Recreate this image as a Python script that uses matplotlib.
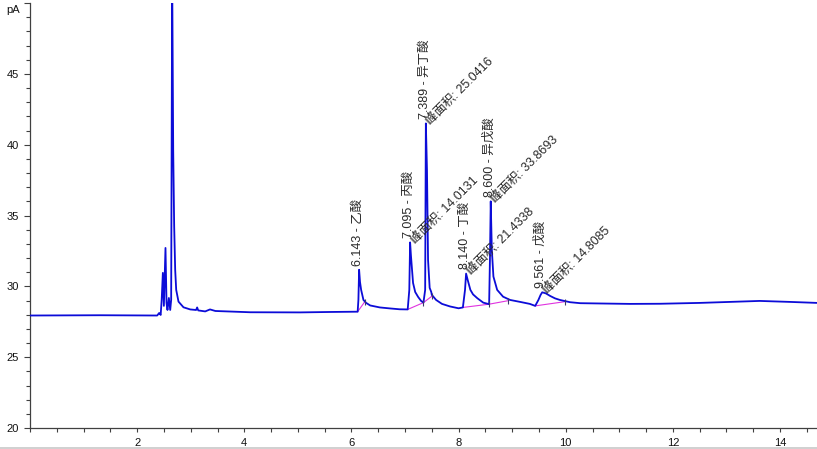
import matplotlib
matplotlib.use("Agg")
import matplotlib.pyplot as plt
from matplotlib.ticker import MultipleLocator, FixedLocator
from matplotlib.lines import Line2D

plt.rcParams['font.family'] = ['Liberation Sans', 'Noto Sans CJK SC', 'DejaVu Sans']

# chromatogram trace (min, pA)
trace_time = [
    0.00, 1.31, 2.374, 2.411, 2.439, 2.458, 2.480, 2.499, 2.529, 2.548,
    2.566, 2.592, 2.617, 2.635, 2.654, 2.673, 2.691, 2.710, 2.729, 2.772,
    2.865, 2.99, 3.10, 3.12, 3.14, 3.27, 3.36, 3.46, 4.11, 5.04,
    5.60, 6.116, 6.130, 6.143, 6.160, 6.181, 6.224, 6.275, 6.35, 6.53,
    6.72, 6.90, 7.05, 7.080, 7.095, 7.110, 7.124, 7.15, 7.19, 7.245,
    7.30, 7.344, 7.376, 7.389, 7.41, 7.43, 7.46, 7.49, 7.50, 7.58,
    7.69, 7.84, 8.00, 8.08, 8.12, 8.140, 8.17, 8.22, 8.27, 8.35,
    8.46, 8.57, 8.585, 8.600, 8.62, 8.65, 8.72, 8.83, 8.96, 9.15,
    9.33, 9.43, 9.49, 9.53, 9.561, 9.63, 9.71, 9.80, 9.89, 10.08,
    10.27, 10.64, 11.2, 11.76, 12.5, 13.06, 13.62, 14.19, 14.69,
]
trace_signal = [
    27.94, 27.96, 27.94, 28.12, 27.98, 29.04, 30.95, 28.62, 32.71, 28.83,
    28.33, 29.18, 28.33, 29.04, 52.00, 39.60, 34.27, 31.16, 29.75, 28.92,
    28.52, 28.37, 28.33, 28.51, 28.30, 28.23, 28.37, 28.26, 28.17, 28.16,
    28.19, 28.21, 29.04, 31.17, 30.30, 29.75, 29.04, 28.83, 28.65, 28.51,
    28.44, 28.38, 28.37, 29.75, 33.10, 32.20, 31.51, 30.24, 29.60, 29.25,
    28.97, 28.85, 29.75, 41.50, 38.20, 31.86, 29.89, 29.60, 29.40, 29.04,
    28.76, 28.58, 28.45, 28.51, 29.75, 30.90, 30.45, 29.75, 29.43, 29.16,
    28.85, 28.74, 31.86, 36.00, 32.60, 30.69, 29.75, 29.27, 29.04, 28.90,
    28.76, 28.62, 29.04, 29.39, 29.58, 29.50, 29.32, 29.15, 29.04, 28.88,
    28.81, 28.79, 28.76, 28.77, 28.83, 28.90, 28.97, 28.90, 28.83,
]

# identified peaks
peak_rt = [6.143, 7.095, 7.389, 8.140, 8.600, 9.561]
peak_top = [31.17, 33.10, 41.50, 30.90, 36.00, 29.58]
peak_name = ['乙酸', '丙酸', '异丁酸', '丁酸', '异戊酸', '戊酸']
peak_area = [None, 14.0131, 25.0416, 21.4338, 33.8693, 14.8085]

# integration baselines (start t, start pA, end t, end pA)
base_t0 = [6.116, 7.05, 7.344, 8.08, 8.57, 9.43]
base_y0 = [28.21, 28.37, 28.85, 28.51, 28.74, 28.62]
base_t1 = [6.25, 7.344, 7.50, 8.57, 8.93, 9.99]
base_y1 = [28.92, 28.85, 29.30, 28.74, 28.99, 28.92]

W, H = 817, 449
fig = plt.figure(figsize=(W / 100, H / 100), dpi=100)
ax = fig.add_axes([30 / W, (H - 428) / H, (W - 30) / W, (428 - 3) / H])

ax.plot(trace_time, trace_signal, color='#0c0cd8', lw=1.3, zorder=3)

for t0, y0, t1, y1 in zip(base_t0, base_y0, base_t1, base_y1):
    ax.plot([t0, t1], [y0, y1], color='#e033e0', lw=0.8, zorder=2)
    ax.plot([t1], [y1], marker='|', ms=5, color='#3a3a6a', mew=0.8, zorder=4)

txt_color = '#2a2a2a'
for rt, top, name, area in zip(peak_rt, peak_top, peak_name, peak_area):
    ax.annotate(f"{rt:.3f} - {name}", xy=(rt, top), xytext=(-1, 3),
                textcoords='offset points', rotation=90, rotation_mode='anchor',
                ha='left', va='center', fontsize=9, color=txt_color)
    if area is not None:
        ax.annotate(f"峰面积: {area:.4f}", xy=(rt, top), xytext=(2, 0),
                    textcoords='offset points', rotation=45, rotation_mode='anchor',
                    ha='left', va='center', fontsize=9, color=txt_color)

ax.set_xlim(0, 14.69)
ax.set_ylim(20, 50)

for side in ('top', 'right'):
    ax.spines[side].set_visible(False)
for side in ('left', 'bottom'):
    ax.spines[side].set_color('#404040')
    ax.spines[side].set_linewidth(0.9)

ax.xaxis.set_major_locator(FixedLocator([2, 4, 6, 8, 10, 12, 14]))
ax.xaxis.set_minor_locator(MultipleLocator(0.5))
ax.yaxis.set_major_locator(FixedLocator([20, 25, 30, 35, 40, 45, 50]))
ax.yaxis.set_minor_locator(MultipleLocator(1))
ax.set_yticklabels(['20', '25', '30', '35', '40', '45', ''])

ax.tick_params(axis='x', which='both', length=3, width=0.8, color='#404040',
               pad=4.5, labelsize=8, labelcolor='#111111')
ax.tick_params(axis='y', which='major', length=4.5, width=0.8, color='#404040',
               pad=3.5, labelsize=8, labelcolor='#111111')
ax.tick_params(axis='y', which='minor', length=3, width=0.8, color='#404040')

fig.text(20 / W, 1 - 10 / H, 'pA', ha='right', va='center', fontsize=8, color='#111111')

# faint frame line at the bottom of the screenshot
fig.add_artist(Line2D([0, 1], [1 / H, 1 / H], transform=fig.transFigure,
                      color='#c8c8c8', lw=1.2))

fig.savefig('out.png', dpi=100)
